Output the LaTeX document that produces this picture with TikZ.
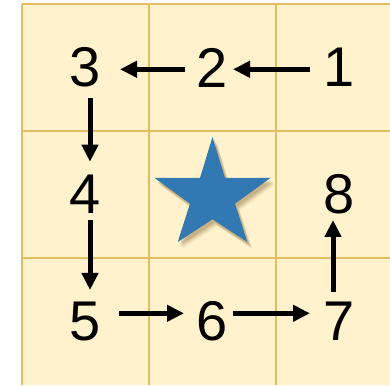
\documentclass[tikz,border=0pt]{standalone}
\usepackage{fontspec}
\setmainfont{Liberation Sans}
\usetikzlibrary{arrows.meta,calc}
\definecolor{cellfill}{RGB}{255,242,204}
\definecolor{gridline}{RGB}{226,190,96}
\definecolor{starblue}{RGB}{50,120,178}
\definecolor{shadowtan}{RGB}{120,90,40}
\tikzset{
  digit/.style={inner sep=0pt, font=\fontsize{56}{56}\selectfont},
  arr/.style={line width=5pt, -{Triangle[length=17pt,width=16pt]}},
  gridln/.style={draw=gridline, line width=1.1pt}
}
\begin{document}
\begin{tikzpicture}[x=1pt,y=1pt]
\useasboundingbox (0,0) rectangle (390,385);
\fill[white] (0,0) rectangle (390,385);
\fill[cellfill] (22,0) rectangle (390,381);
\foreach \x in {22,149,276} \draw[gridln] (\x,0) -- (\x,381);
\foreach \y in {381,254,127} \draw[gridln] (22,\y) -- (390,\y);
% star shadow
\foreach \s/\o in {7/0.06,6/0.08,5/0.10,4/0.12,3/0.14} {
  \fill[shadowtan, opacity=\o, shift={(\s*0.7,-\s)}]
    (212.5,248) -- (225,207) -- (270.3,207) -- (235,181.3) -- (247.3,143)
    -- (212.5,165.7) -- (177.7,143) -- (190,181.3) -- (154.7,207) -- (200,207) -- cycle;
}
\fill[starblue]
    (212.5,248) -- (225,207) -- (270.3,207) -- (235,181.3) -- (247.3,143)
    -- (212.5,165.7) -- (177.7,143) -- (190,181.3) -- (154.7,207) -- (200,207) -- cycle;
% digits
\node[digit] (n1) at (339.5,317.5) {1};
\node[digit] (n2) at (212.5,317.5) {2};
\node[digit] (n3) at (85.5,317.5) {3};
\node[digit] (n4) at (85.5,190.5) {4};
\node[digit] (n5) at (85.5,63.5) {5};
\node[digit] (n6) at (212.5,63.5) {6};
\node[digit] (n7) at (339.5,63.5) {7};
\node[digit] (n8) at (339.5,190.5) {8};
% arrows
\draw[arr] ($(n1)+(-29.5,-1.8)$) -- ($(n2)+(20.5,-1.8)$);
\draw[arr] ($(n2)+(-27.5,-1.8)$) -- ($(n3)+(34.5,-1.8)$);
\draw[arr] ($(n3)+(4.5,-30.5)$) -- ($(n4)+(4.5,32.8)$);
\draw[arr] ($(n4)+(4.5,-25.5)$) -- ($(n5)+(4.5,31.5)$);
\draw[arr] ($(n5)+(33.5,8.2)$) -- ($(n6)+(-28.5,8.2)$);
\draw[arr] ($(n6)+(20.2,8.2)$) -- ($(n7)+(-29.5,8.2)$);
\draw[arr] ($(n7)+(-6.5,29.8)$) -- ($(n8)+(-6.5,-25.5)$);
\end{tikzpicture}
\end{document}
